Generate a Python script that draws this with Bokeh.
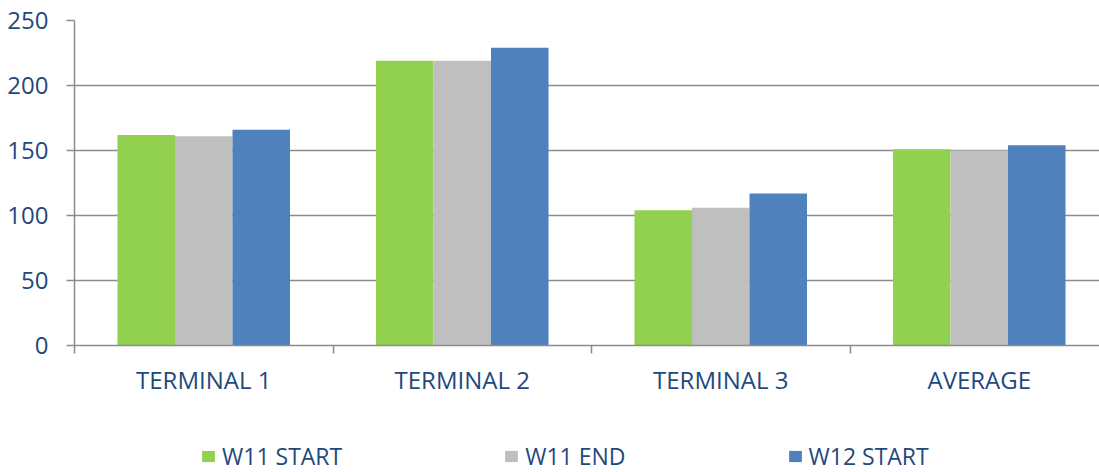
from bokeh.plotting import figure
from bokeh.layouts import column
from bokeh.models import Range1d, FixedTicker, Legend, LegendItem, ColumnDataSource
from bokeh.embed import file_html
from bokeh.resources import INLINE

categories = ["TERMINAL 1", "TERMINAL 2", "TERMINAL 3", "AVERAGE"]
series_names = ["W11 START", "W11 END", "W12 START"]
w11_start = [162, 219, 104, 151]
w11_end = [161, 219, 106, 150]
w12_start = [166, 229, 117, 154]
series_values = [w11_start, w11_end, w12_start]
colors = ["#92D050", "#BFBFBF", "#4F81BD"]
y_ticks = [0, 50, 100, 150, 200, 250]

TEXT = "#1F497D"
GRID = "#8C8C8C"
FONT = "Open Sans"

bar_w = 0.2225
centers = [i + 0.5 for i in range(len(categories))]

W = 1099
H1 = 405
H2 = 67

p = figure(width=W, height=H1, output_backend="svg", toolbar_location=None,
           x_range=Range1d(0, 1025 / 258.5), y_range=Range1d(0, 250),
           min_border_left=74, min_border_right=0, min_border_top=20, min_border_bottom=H1 - 345)
p.outline_line_color = None
p.background_fill_color = "white"
p.border_fill_color = "white"

for j, (name, vals, col) in enumerate(zip(series_names, series_values, colors)):
    src = ColumnDataSource(dict(x=[c + (j - 1) * bar_w for c in centers], top=vals))
    p.vbar(x="x", top="top", width=bar_w, bottom=0, source=src,
           fill_color=col, line_color=None)

# axes
p.xaxis.ticker = FixedTicker(ticks=centers, minor_ticks=list(range(len(categories))))
p.xaxis.major_label_overrides = {c: n for c, n in zip(centers, categories)}
p.xaxis.major_tick_out = 0
p.xaxis.major_tick_in = 0
p.xaxis.minor_tick_out = 8
p.xaxis.minor_tick_in = 0
p.xaxis.minor_tick_line_color = GRID
p.xaxis.minor_tick_line_width = 1.5
p.xaxis.axis_line_color = GRID
p.xaxis.axis_line_width = 1.5
p.xaxis.major_label_text_font = FONT
p.xaxis.major_label_text_font_size = "24px"
p.xaxis.major_label_text_color = TEXT
p.xaxis.major_label_standoff = 9

p.yaxis.ticker = FixedTicker(ticks=y_ticks)
p.yaxis.major_tick_out = 8
p.yaxis.major_tick_in = 0
p.yaxis.minor_tick_line_color = None
p.yaxis.major_tick_line_color = GRID
p.yaxis.major_tick_line_width = 1.5
p.yaxis.axis_line_color = GRID
p.yaxis.axis_line_width = 1.5
p.yaxis.major_label_text_font = FONT
p.yaxis.major_label_text_font_size = "24px"
p.yaxis.major_label_text_color = TEXT
p.yaxis.major_label_standoff = 18

p.xgrid.grid_line_color = None
p.ygrid.ticker = FixedTicker(ticks=y_ticks)
p.ygrid.grid_line_color = GRID
p.ygrid.grid_line_width = 1.5

# legend strip below the chart (its frame is aligned with the chart's frame)
p2 = figure(width=W, height=H2, output_backend="svg", toolbar_location=None,
            x_range=Range1d(-200, -100), y_range=Range1d(-2000, -1000),
            min_border_left=0, min_border_right=0, min_border_top=0, min_border_bottom=0)
p2.axis.visible = False
p2.grid.visible = False
p2.outline_line_color = None
p2.background_fill_color = "white"
p2.border_fill_color = "white"

items = []
for name, vals, col in zip(series_names, series_values, colors):
    # degenerate bars far outside the strip's ranges: they only provide the legend swatch
    r = p2.vbar(x=list(range(len(vals))), top=vals, bottom=vals, width=0,
                fill_color=col, line_color=None)
    items.append(LegendItem(label=name, renderers=[r]))

legend = Legend(items=items, orientation="horizontal", location=(126, 0),
                padding=0, margin=0, spacing=161,
                glyph_width=16, glyph_height=14, label_standoff=6,
                label_text_font=FONT, label_text_font_size="23px",
                label_text_color=TEXT, border_line_color=None,
                background_fill_alpha=0)
p2.add_layout(legend, "center")

layout = column(p, p2, spacing=0)
open("out.html", "w").write(file_html(layout, INLINE))
